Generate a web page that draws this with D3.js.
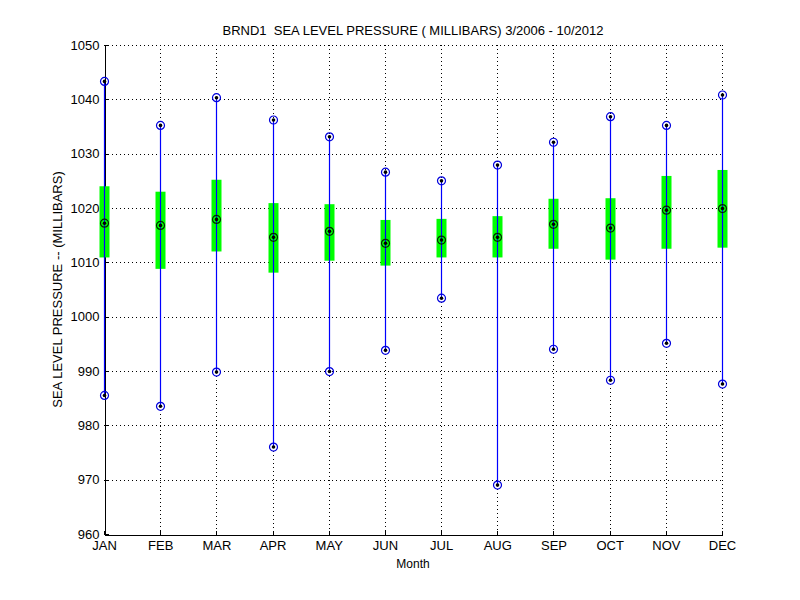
<!DOCTYPE html>
<html>
<head>
<meta charset="utf-8">
<script src="https://cdn.jsdelivr.net/npm/d3@7"></script>
<style>
  body { margin: 0; background: #fff; }
  svg text { font-family: "Liberation Sans", Arial, Helvetica, sans-serif; fill: #000; }
</style>
</head>
<body>
<svg id="chart" width="800" height="600"></svg>
<script>
// Monthly sea level pressure stats, BRND1 3/2006 - 10/2012
const months  = ['JAN','FEB','MAR','APR','MAY','JUN','JUL','AUG','SEP','OCT','NOV','DEC'];
const maxVals = [1043.3, 1035.2, 1040.3, 1036.2, 1033.1, 1026.6, 1025.0, 1027.9, 1032.1, 1036.8, 1035.2, 1040.8];
const q3Vals  = [1024.0, 1023.0, 1025.2, 1020.9, 1020.7, 1017.8, 1018.0, 1018.5, 1021.7, 1021.8, 1025.9, 1027.0];
const medVals = [1017.2, 1016.8, 1017.9, 1014.6, 1015.7, 1013.5, 1014.1, 1014.6, 1017.0, 1016.3, 1019.6, 1019.9];
const q1Vals  = [1010.9, 1008.8, 1012.0, 1008.1, 1010.3, 1009.4, 1010.9, 1010.9, 1012.5, 1010.5, 1012.5, 1012.7];
const minVals = [985.5, 983.5, 989.8, 976.0, 989.9, 993.8, 1003.4, 969.0, 994.0, 988.3, 995.1, 987.6];
const yTicks  = [960, 970, 980, 990, 1000, 1010, 1020, 1030, 1040, 1050];

const rows = months.map((m, i) => ({
  month: m, max: maxVals[i], q3: q3Vals[i], med: medVals[i], q1: q1Vals[i], min: minVals[i]
}));

const svg = d3.select('#chart');
const plot = { left: 104, right: 722, top: 45, bottom: 534 };

const x = d3.scalePoint().domain(months).range([plot.left, plot.right]);
const y = d3.scaleLinear().domain([960, 1050]).range([plot.bottom, plot.top]);
const px = v => Math.round(v) + 0.5;

// ── Grid (dotted) ──────────────────────────────────────────────
const grid = svg.append('g').attr('stroke', '#000').attr('stroke-width', 1)
  .attr('stroke-dasharray', '1,3').attr('shape-rendering', 'crispEdges');

grid.selectAll('.hgrid').data(yTicks.filter(t => t > 960)).join('line')
  .attr('x1', plot.left).attr('x2', plot.right)
  .attr('y1', d => px(y(d))).attr('y2', d => px(y(d)));

// vertical grid only where the whisker does not cover it
grid.selectAll('.vtop').data(rows.slice(1)).join('line')
  .attr('x1', d => px(x(d.month))).attr('x2', d => px(x(d.month)))
  .attr('y1', plot.top).attr('y2', d => y(d.max));
grid.selectAll('.vbot').data(rows.slice(1)).join('line')
  .attr('x1', d => px(x(d.month))).attr('x2', d => px(x(d.month)))
  .attr('y1', d => y(d.min)).attr('y2', plot.bottom);

// ── Axes (left + bottom only, ticks inward) ────────────────────
const yAxis = svg.append('g')
  .attr('transform', `translate(${px(plot.left)},0)`)
  .call(d3.axisLeft(y).tickValues(yTicks).tickFormat(d3.format('d'))
    .tickSizeInner(-4).tickSizeOuter(0).tickPadding(5));

const xAxis = svg.append('g')
  .attr('transform', `translate(0,${px(plot.bottom)})`)
  .call(d3.axisBottom(x).tickSizeInner(-4).tickSizeOuter(0).tickPadding(6));

[yAxis, xAxis].forEach(ax => {
  ax.select('.domain').attr('stroke', '#000').attr('shape-rendering', 'crispEdges');
  ax.selectAll('.tick line').attr('stroke', '#000').attr('shape-rendering', 'crispEdges');
  ax.selectAll('.tick text').attr('font-size', 13).attr('font-family', '"Liberation Sans", Arial, sans-serif');
});
xAxis.selectAll('.tick text').attr('dy', '0.71em');

// ── Inter-quartile bars ────────────────────────────────────────
const barW = 10;
svg.append('g').selectAll('rect').data(rows).join('rect')
  .attr('x', d => px(x(d.month)) - barW / 2)
  .attr('width', barW)
  .attr('y', d => y(d.q3))
  .attr('height', d => y(d.q1) - y(d.q3))
  .attr('fill', '#00ff00');

// ── Whiskers (thin filled rects, over the bars) ────────────────
svg.append('g').selectAll('rect').data(rows).join('rect')
  .attr('x', d => Math.round(x(d.month)) - 0.1)
  .attr('width', 1.2)
  .attr('y', d => y(d.max))
  .attr('height', d => y(d.min) - y(d.max))
  .attr('fill', '#0000ff');

// ── Markers: max, median, min ──────────────────────────────────
const pts = rows.flatMap(d => [
  { month: d.month, v: d.max, ring: '#0000dd' },
  { month: d.month, v: d.med, ring: '#002a00' },
  { month: d.month, v: d.min, ring: '#0000dd' }
]);

const mk = svg.append('g').selectAll('g').data(pts).join('g')
  .attr('transform', d => `translate(${px(x(d.month))},${y(d.v)})`);
mk.append('circle').attr('r', 4).attr('fill', 'none')
  .attr('stroke', d => d.ring).attr('stroke-width', 1.2);
mk.append('circle').attr('r', 1.8).attr('fill', '#000');

// ── Labels ─────────────────────────────────────────────────────
svg.append('text')
  .attr('x', (plot.left + plot.right) / 2).attr('y', 35)
  .attr('text-anchor', 'middle').attr('font-size', 13)
  .attr('xml:space', 'preserve')
  .text('BRND1  SEA LEVEL PRESSURE ( MILLIBARS) 3/2006 - 10/2012');

svg.append('text')
  .attr('x', (plot.left + plot.right) / 2).attr('y', 568)
  .attr('text-anchor', 'middle').attr('font-size', 12)
  .text('Month');

svg.append('text')
  .attr('transform', `translate(62,${(plot.top + plot.bottom) / 2}) rotate(-90)`)
  .attr('text-anchor', 'middle').attr('font-size', 13)
  .text('SEA LEVEL PRESSURE -- (MILLIBARS)');
</script>
</body>
</html>
